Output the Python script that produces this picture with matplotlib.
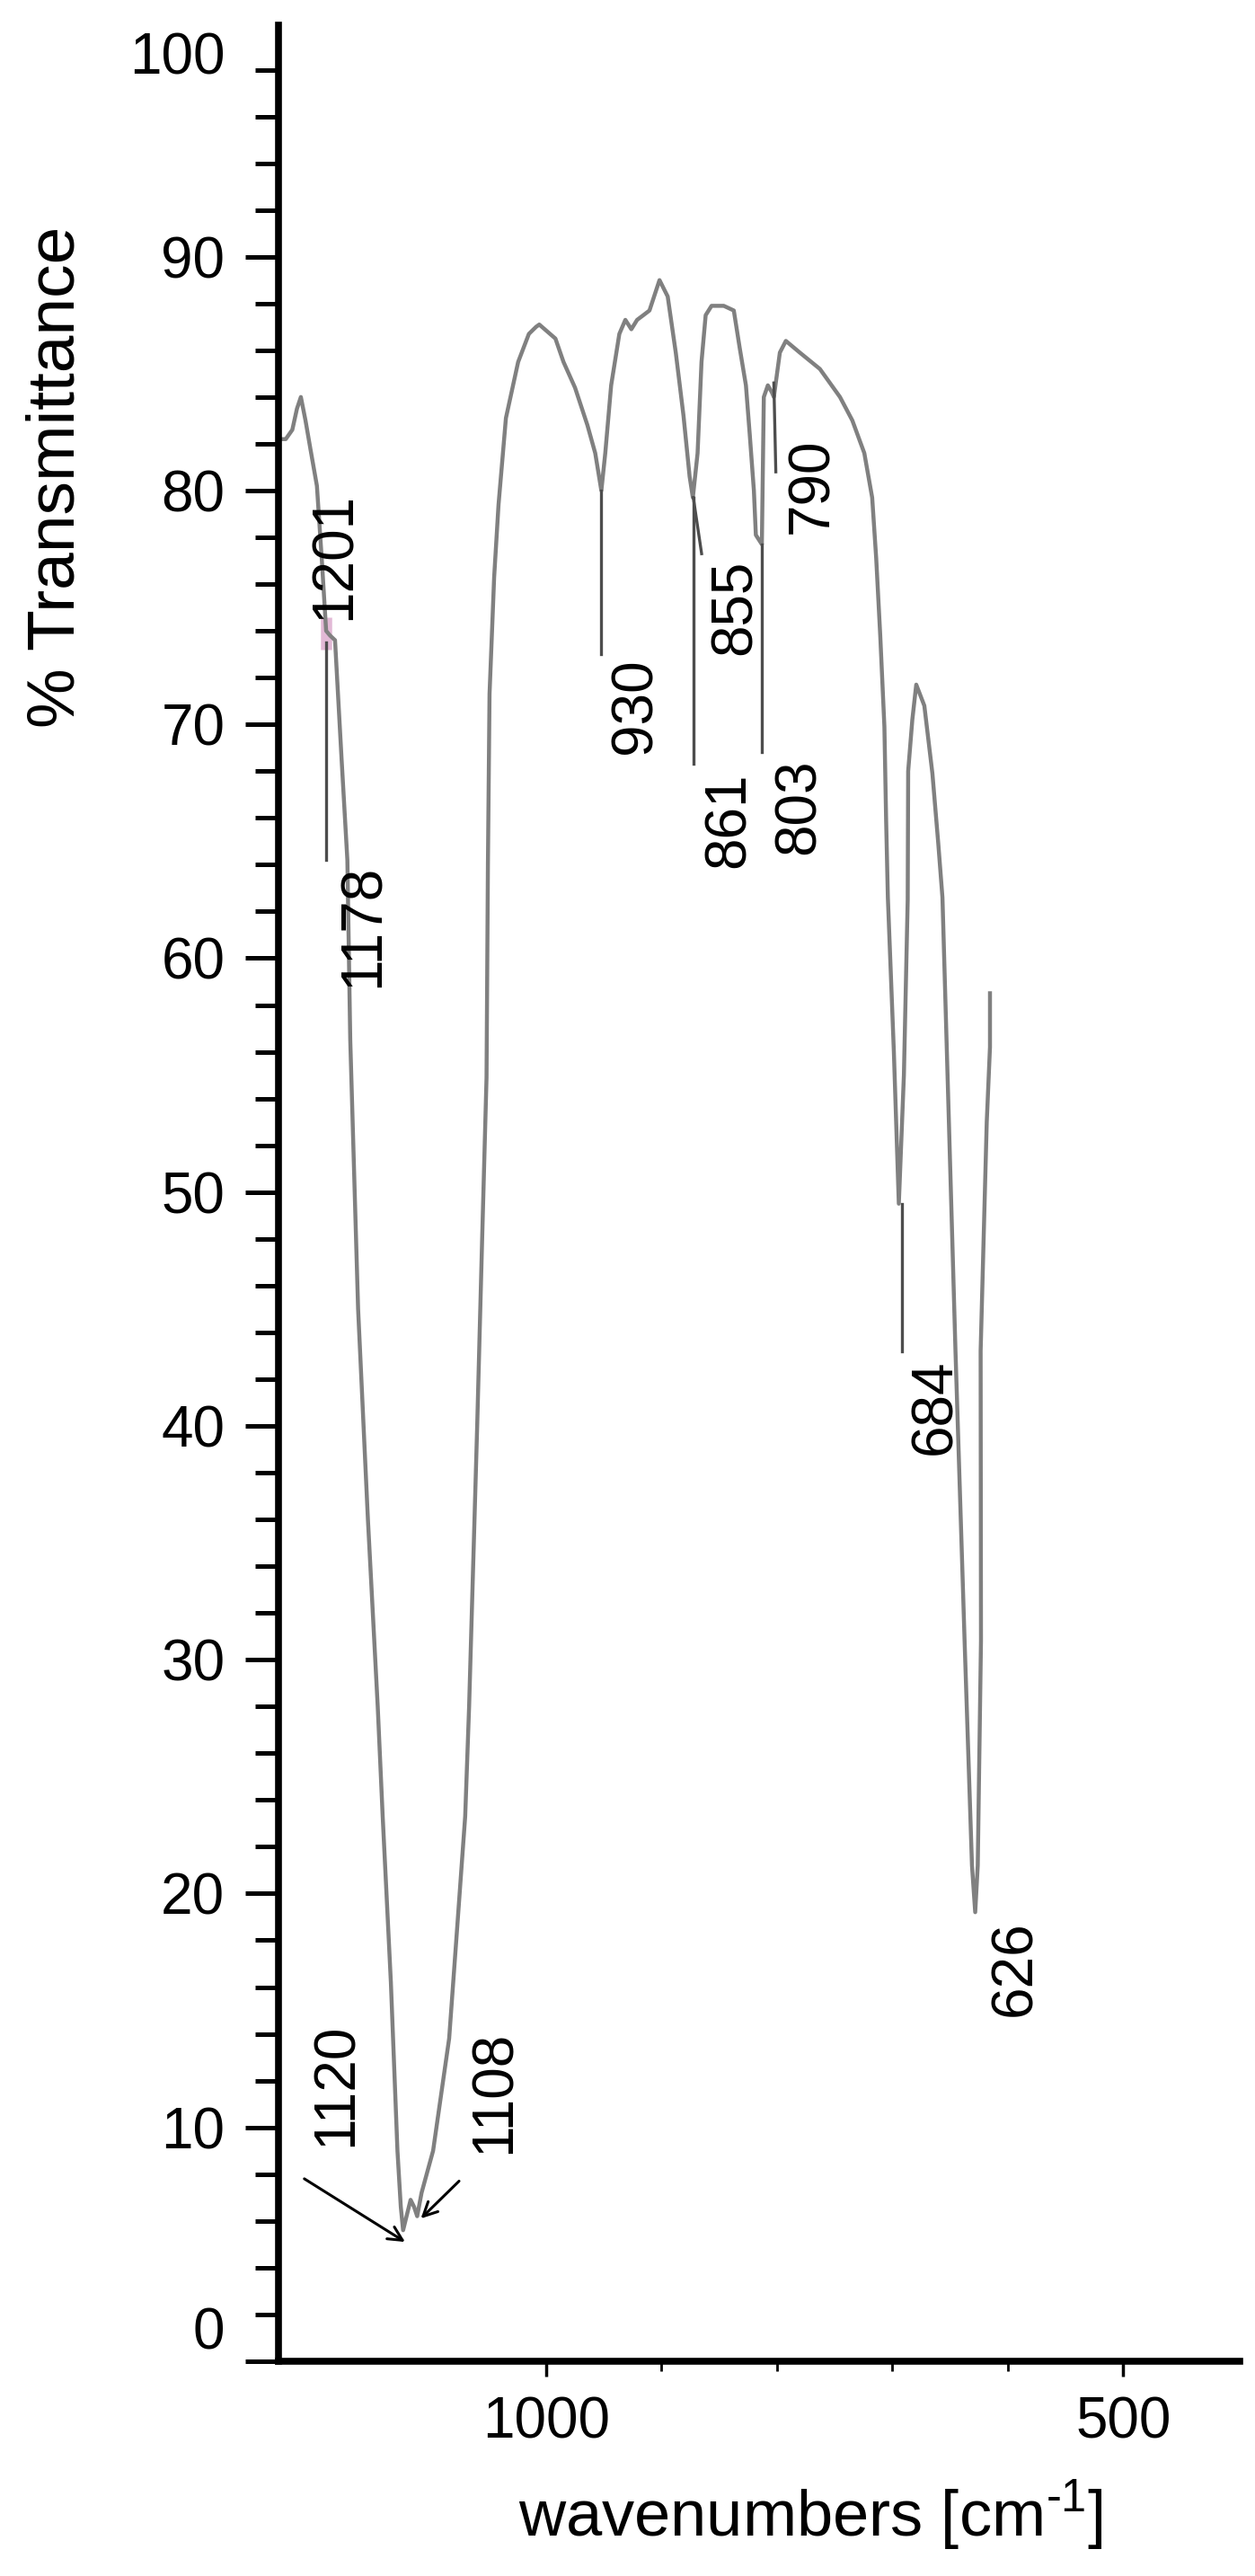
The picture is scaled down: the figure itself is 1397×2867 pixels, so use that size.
import matplotlib
matplotlib.use("Agg")
import matplotlib.pyplot as plt
import matplotlib.transforms as mtransforms
from matplotlib.ticker import MultipleLocator, FixedLocator, FuncFormatter

plt.rcParams["font.family"] = ["Liberation Sans", "DejaVu Sans"]
plt.rcParams["mathtext.fontset"] = "custom"
plt.rcParams["mathtext.rm"] = "Liberation Sans"

# IR spectrum (wavenumber in cm-1, % transmittance)
wavenumber = [
    1229, 1225.7, 1220, 1216, 1212.6, 1208.6, 1204.4, 1198.7, 1194.4, 1190.7,
    1187.3, 1183, 1177.3, 1172.3, 1169.8, 1163, 1154.5, 1146, 1141.7, 1134.6,
    1128.9, 1126, 1124, 1120.5, 1117.5, 1114.5, 1111.8, 1108, 1098, 1084.1,
    1077.2, 1070.2, 1066.8, 1059.8, 1055.5, 1051.7, 1050.5, 1049.1, 1045.1, 1041.3,
    1034.9, 1024.3, 1015, 1008.8, 1006, 992, 985, 975, 964.3, 957.5,
    952.2, 948.8, 943.7, 936.6, 931.4, 926.2, 921.2, 915.8, 910.5, 901.8,
    894.7, 887.7, 881, 875.7, 872.9, 868.8, 865.4, 861.8, 856.7, 846.1,
    837.4, 832.3, 826.9, 823.6, 820, 818.3, 813.1, 811.4, 807.9, 804.4,
    802.7, 797.5, 792.3, 780.2, 762.8, 745.4, 734.7, 724.3, 717.5, 714,
    710.5, 706.9, 705.4, 703.9, 698.7, 694.4, 690, 686.7, 686.3, 682.7,
    679.3, 672.3, 665.3, 660.2, 656.6, 645.3, 637.4, 631, 628.2, 626,
    623.2, 623.5, 618.2, 615.4, 615.4,
]
transmittance = [
    82.2, 82.2, 82.6, 83.5, 84.0, 83.0, 81.8, 80.2, 77.0, 74.0,
    73.8, 73.6, 68.5, 64.2, 56.5, 45.0, 36.0, 28.0, 23.3, 16.2,
    9.0, 6.6, 5.6, 6.3, 6.9, 6.6, 6.2, 7.2, 9.0, 13.8,
    18.5, 23.3, 28.0, 40.0, 48.0, 54.9, 64.0, 71.3, 76.3, 79.4,
    83.1, 85.5, 86.7, 87.0, 87.1, 86.5, 85.5, 84.4, 82.8, 81.6,
    80.0, 81.6, 84.5, 86.7, 87.3, 86.9, 87.3, 87.5, 87.7, 89.0,
    88.3, 85.9, 83.2, 80.6, 79.7, 81.6, 85.5, 87.5, 87.9, 87.9,
    87.7, 86.1, 84.5, 82.4, 80.0, 78.1, 77.7, 84.0, 84.5, 84.2,
    84.0, 85.9, 86.4, 85.9, 85.2, 84.0, 83.0, 81.6, 79.7, 77.1,
    73.8, 69.9, 65.9, 62.6, 56.0, 49.5, 55.0, 62.5, 68.0, 70.2,
    71.7, 70.8, 67.9, 64.9, 62.6, 43.2, 30.8, 21.2, 19.2, 21.2,
    30.8, 43.2, 53.0, 56.2, 58.5,
]

# band labels (rotated numbers next to the spectrum)
band_text = ["1201", "1178", "930", "861", "855", "803", "790", "684", "626"]
band_text_wn = [1183, 1158, 922.7, 841, 835.8, 780.3, 769.6, 663, 593.3]
band_text_t = [77.2, 61.4, 70.8, 65.9, 75.0, 66.5, 80.2, 40.8, 16.8]

# straight leader lines drawn under the bands
leader_wn_start = [1190.5, 952.2, 872.5, 872.5, 813.1, 802.7, 692]
leader_t_start = [73.5, 80.0, 79.7, 79.7, 77.7, 84.6, 49.5]
leader_wn_end = [1190.5, 952.2, 872.5, 865.3, 813.1, 801.0, 692]
leader_t_end = [64.2, 73.0, 68.3, 77.3, 68.8, 80.8, 43.2]

# arrows pointing at the double minimum of the strong band
arrow_text = ["1120", "1108"]
arrow_tail_wn = [1209.6, 1075.5]
arrow_tail_t = [7.8, 7.7]
arrow_tip_wn = [1122.3, 1108.6]
arrow_tip_t = [5.1, 6.1]
arrow_text_wn = [1182, 1044.8]
arrow_text_t = [11.8, 11.5]

# small pink mark at the 1201 shoulder in the scan
shoulder_wn = [1190.5, 1190.5]
shoulder_t = [73.2, 74.6]

# end labels of the y scale sit slightly inside the axis in the scan
y_end_labels = ["100", "0"]
y_end_label_pos = [98.7, 1.4]

fig = plt.figure(figsize=(13.97, 28.67), dpi=100)
ax = fig.add_axes([0.2219, 0.0834, 0.7659, 0.9068])

ax.plot(shoulder_wn, shoulder_t, color="#e2b9d6", lw=9, solid_capstyle="butt")
ax.plot(wavenumber, transmittance, color="#808080", lw=3.2)

for x0, y0, x1, y1 in zip(leader_wn_start, leader_t_start, leader_wn_end, leader_t_end):
    ax.plot([x0, x1], [y0, y1], color="#4d4d4d", lw=2.4)

for s, x, y in zip(band_text, band_text_wn, band_text_t):
    ax.text(x, y, s, rotation=90, ha="center", va="center", fontsize=46)

for s, tx, ty, hx, hy, lx, ly in zip(arrow_text, arrow_tail_wn, arrow_tail_t,
                                     arrow_tip_wn, arrow_tip_t,
                                     arrow_text_wn, arrow_text_t):
    ax.annotate("", xy=(hx, hy), xytext=(tx, ty),
                arrowprops=dict(arrowstyle="->", color="black", lw=2.2,
                                mutation_scale=28, shrinkA=0, shrinkB=0))
    ax.text(lx, ly, s, rotation=90, ha="center", va="center", fontsize=46)

ax.set_xlim(1232, 399)
ax.set_ylim(0, 99.9)

for side in ["top", "right"]:
    ax.spines[side].set_visible(False)
for side in ["left", "bottom"]:
    ax.spines[side].set_linewidth(5.5)
    ax.spines[side].set_color("black")

ax.yaxis.set_major_locator(MultipleLocator(10))
ax.yaxis.set_minor_locator(MultipleLocator(2))
ax.yaxis.set_major_formatter(FuncFormatter(lambda v, p: "" if v == 0 else f"{v:.0f}"))
ax.xaxis.set_major_locator(FixedLocator([1000, 500]))
ax.xaxis.set_minor_locator(FixedLocator([900, 800, 700, 600]))

ax.tick_params(axis="y", which="major", length=27, width=3.6, pad=16, labelsize=46)
ax.tick_params(axis="y", which="minor", length=19, width=3.6)
ax.tick_params(axis="x", which="major", length=12, width=2.5, pad=16, labelsize=46)
ax.tick_params(axis="x", which="minor", length=8, width=2)

end_trans = mtransforms.offset_copy(ax.get_yaxis_transform(), fig=fig,
                                    x=-(27 + 16), y=0, units="points")
for s, v in zip(y_end_labels, y_end_label_pos):
    ax.text(0, v, s, transform=end_trans, ha="right", va="center_baseline",
            fontsize=46)

fig.text(0.045, 0.815, "% Transmittance", rotation=90, ha="center", va="center",
         fontsize=54)
fig.text(0.646, 0.0235, "wavenumbers [cm$^{\\mathregular{\u2010}1}$]",
         ha="center", va="center", fontsize=52)

fig.savefig("out.png", dpi=100, facecolor="white")
